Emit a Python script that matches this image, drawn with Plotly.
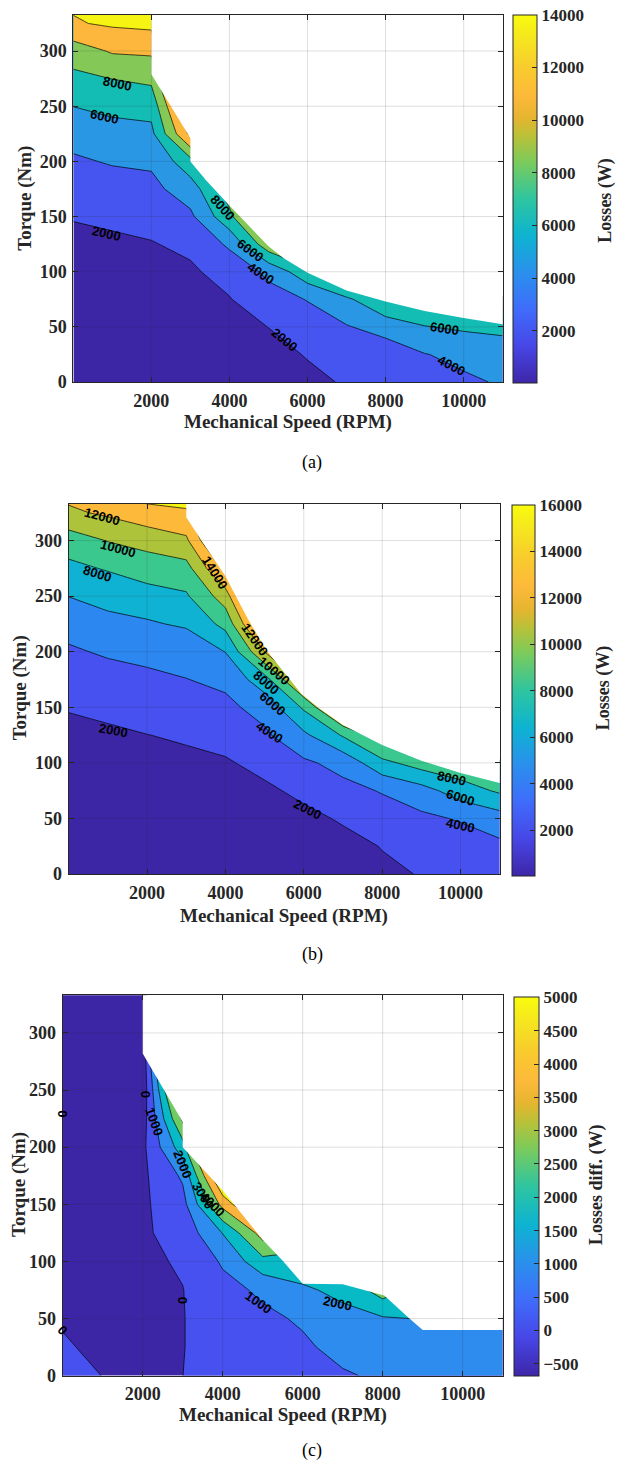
import plotly.graph_objects as go

# ---------------------------------------------------------------------------
# Operating grid shared by the three maps
speed_rpm = [0, 1000, 2000, 3000, 4000, 5000, 6000, 7000, 8000, 9000, 10000, 11000]
torque_nm = [0, 25, 50, 75, 100, 125, 150, 175, 200, 225, 250, 275, 300, 325, 350]

# Losses (W), one list per speed column, listed from low to high torque.
# Points far outside the torque envelope are left empty.
loss_a_cols = [
    [40, 98, 271, 561, 966, 1487, 2113, 2959, 3772, 4586, 6023, 7499, 8973, 11826, 12414],
    [200, 260, 440, 739, 1159, 1699, 2326, 3288, 4136, 5318, 6455, 8032, 10209, 12282, 14400],
    [380, 441, 625, 932, 1361, 1913, 2534, 3488, 4288, 5521, 6640, 8458, 10338, 12525, 15000],
    [580, 653, 871, 1234, 1743, 2355, 3609, 5000, 7300, 12500, 15000, 18000, 21000],
    [800, 923, 1293, 1910, 2660, 4335, 7500, 9062, 12000],
    [1080, 1318, 2023, 3234, 4431, 9334, 13000, 16000],
    [1500, 2125, 3132, 4075, 7394, 11000],
    [2200, 2616, 3864, 5564, 11014],
    [2650, 2900, 4750, 8100, 12000],
    [3100, 3920, 5920, 7920, 11000],
    [3650, 4525, 6281, 10500],
    [4200, 5271, 6343, 12000],
]
loss_b_cols = [
    [40, 98, 272, 563, 970, 1493, 2120, 2968, 3779, 4591, 6035, 7510, 8986, 11654, 12926],
    [150, 213, 402, 718, 1159, 1727, 2383, 3352, 4205, 5455, 6630, 8166, 10076, 12324, 14789],
    [300, 367, 569, 906, 1378, 1975, 2800, 3636, 4463, 5806, 6961, 9260, 10493, 13507, 15048],
    [450, 522, 738, 1099, 1604, 2227, 3131, 3960, 4793, 6230, 7758, 9270, 11640, 13640, 16000],
    [650, 725, 952, 1330, 1858, 2481, 3546, 4419, 6039, 8619, 11000, 14500, 18000, 21500],
    [850, 950, 1252, 1754, 2395, 3669, 4703, 7197, 12000, 16000, 20000, 24000],
    [1100, 1242, 1667, 2307, 3682, 5600, 8300, 13000, 17000],
    [1400, 1597, 2139, 3447, 4599, 8200, 13800, 18000],
    [1760, 2046, 3137, 4118, 7437, 11200, 15000],
    [2060, 2440, 3579, 5198, 8911, 12000],
    [2500, 2935, 4179, 7024, 9514, 13000],
    [2900, 3567, 5092, 8300, 11000],
]
loss_diff_cols = [
    [480, 80, -70, -150, -200, -250, -300, -340, -380, -420, -460, -500, -540, -570, -600],
    [-20, -160, -250, -300, -350, -380, -420, -460, -500, -540, -580, -620, -650, -670, -680],
    [-180, -200, -200, -200, -185, -125, -160, -190, -220, -450, -677, -690, -650, -620, -600],
    [-2, -30, -30, -20, 100, 350, 650, 1150, 2567, 4200, 6000, 8000, 10000],
    [250, 470, 470, 700, 1117, 2037, 4330, 6500, 9000],
    [450, 600, 800, 1165, 2700, 4450, 7000, 9500],
    [650, 850, 1118, 1878, 2488, 4000],
    [900, 1290, 1761, 2197, 3200],
    [1150, 1400, 1900, 3500, 5000],
    [1300, 1600, 2050, 2500],
    [1350, 1550, 1800],
    [1400, 1600, 1850],
]

# Maximum-torque envelopes (speed rpm, torque Nm)
env_a_speed = [2000, 3000, 3000, 3400, 4000, 5000, 5400, 6000, 7000, 8000, 9000, 10000, 11000]
env_a_torque = [279, 221, 200, 183, 160, 123, 112, 99, 83, 73, 64.5, 58, 52.5]
env_b_speed = [3000, 3350, 4000, 4580, 5050, 5940, 6400, 7000, 8000, 9000, 10000, 11000]
env_b_torque = [321, 302, 268, 229, 201, 162, 149, 134, 116, 102, 91, 82]
env_c_speed = [2000, 3000, 3000, 4000, 5000, 5500, 6000, 7000, 8040, 8640, 9000, 11000]
env_c_torque = [282, 222, 200, 162, 119, 100.6, 80.4, 80, 70.2, 51, 40, 40]

speed_ticks = [2000, 4000, 6000, 8000, 10000]
torque_ticks = [0, 50, 100, 150, 200, 250, 300]
cbar_a_ticks = [2000, 4000, 6000, 8000, 10000, 12000, 14000]
cbar_b_ticks = [2000, 4000, 6000, 8000, 10000, 12000, 14000, 16000]
cbar_c_ticks = [-500, 0, 500, 1000, 1500, 2000, 2500, 3000, 3500, 4000, 4500, 5000]

# Contour label text, speed, torque, angle
labels_a = [
    ("8000", 1120, 270.6, 12), ("6000", 790, 240.6, 12), ("2000", 840, 135, 13),
    ("8000", 3816, 158, 48), ("6000", 4540, 119.5, 36), ("4000", 4800, 98, 33),
    ("2000", 5400, 38.5, 39), ("6000", 9510, 48.5, 9), ("4000", 9680, 15, 27),
]
labels_b = [
    ("12000", 853, 321.4, 15), ("10000", 1260, 293, 15), ("8000", 725, 270.2, 17),
    ("2000", 1150, 129.5, 10), ("14000", 3730, 271.4, 58), ("12000", 4750, 211.3, 55),
    ("10000", 5230, 183, 40), ("8000", 5040, 172.6, 40), ("6000", 5200, 153.3, 40),
    ("4000", 5130, 127.4, 33), ("2000", 6100, 58, 27), ("8000", 9780, 85.7, 12),
    ("6000", 10000, 69, 17), ("4000", 10010, 43.8, 12),
]
labels_c = [
    ("0", 0, 229, 90), ("0", 0, 39.8, 49), ("0", 2070, 246.4, 90), ("1000", 2290, 222.6, 70),
    ("2000", 3000, 184.8, 68), ("3000", 3500, 157.3, 58), ("4000", 3750, 150, 45),
    ("0", 3000, 65.9, 90), ("1000", 4900, 64, 35), ("2000", 6875, 63, 12),
]

# ---------------------------------------------------------------------------
SERIF = "Liberation Serif"
SANS = "Liberation Sans"
AXC = "#262626"
X_MAX, Y_MAX = 11000, 333

PARULA = [
    [0.0, "#3E26A8"], [0.1, "#4746E6"], [0.2, "#3F6CFB"], [0.3, "#2A90EC"],
    [0.4, "#0DB3D1"], [0.5, "#2EC5A0"], [0.6, "#7BCB5C"], [0.67, "#B9C138"],
    [0.72, "#E6B52F"], [0.78, "#FDB93A"], [0.86, "#F8CC2D"], [0.93, "#F5E420"],
    [1.0, "#F9FB0E"],
]


def to_grid(cols):
    n = len(torque_nm)
    padded = [c + [None] * (n - len(c)) for c in cols]
    return [list(row) for row in zip(*padded)]


def band_scale(colors):
    n = len(colors) - 1
    return [[k / n, c] for k, c in enumerate(colors)]


panels = [
    dict(cols=loss_a_cols, levels=(2000, 12000, 2000),
         bands=["#3D26A6", "#4655EF", "#2A97E5", "#14BDB4", "#84C957", "#FCB73C", "#F5F412"],
         env=(env_a_speed, env_a_torque), crange=(40, 14000), cticks=cbar_a_ticks,
         px_x=(73.3, 502.7), px_y=(14.7, 384.7), cbar=(513, 15, 385, 24),
         labels=labels_a, cbtitle="Losses (W)", cbt_xy=(606, 202),
         xt_xy=(288, 425), yt_xy=(25, 200), cap="(a)", cap_y=466),
    dict(cols=loss_b_cols, levels=(2000, 14000, 2000),
         bands=["#3D26A6", "#4651F0", "#2C88F0", "#0FB2D2", "#3AC88E", "#ADC33A", "#FDBA3A", "#F7F512"],
         env=(env_b_speed, env_b_torque), crange=(40, 16000), cticks=cbar_b_ticks,
         px_x=(68.7, 499.7), px_y=(507.3, 880), cbar=(511.7, 508.3, 881.7, 23.3),
         labels=labels_b, cbtitle="Losses (W)", cbt_xy=(603, 693),
         xt_xy=(284, 922), yt_xy=(20, 693), cap="(b)", cap_y=961),
    dict(cols=loss_diff_cols, levels=(0, 5000, 1000),
         bands=["#3D26A6", "#4651F0", "#2E8CEF", "#07BAC6", "#6FCB62", "#FAB33C", "#F6F413"],
         env=(env_c_speed, env_c_torque), crange=(-690, 5000), cticks=cbar_c_ticks,
         px_x=(62.7, 502.7), px_y=(1002, 1385), cbar=(514, 1004, 1386, 25.3),
         labels=labels_c, cbtitle="Losses diff. (W)", cbt_xy=(597, 1193),
         xt_xy=(283, 1425), yt_xy=(19, 1193), cap="(c)", cap_y=1460),
]

W, H = 624, 1482
fig = go.Figure()
shapes, annotations = [], []
layout_axes = {}

for i, p in enumerate(panels):
    sfx = "" if i == 0 else str(i + 1)
    xa, ya = "x" + sfx, "y" + sfx
    x0, x1 = p["px_x"]
    y0, y1 = p["px_y"]

    start, end, size = p["levels"]
    fig.add_trace(go.Contour(
        x=speed_rpm, y=torque_nm, z=to_grid(p["cols"]), xaxis=xa, yaxis=ya,
        autocontour=False,
        contours=dict(start=start, end=end, size=size, coloring="fill", showlines=True),
        line=dict(color="black", width=0.7, smoothing=0),
        colorscale=band_scale(p["bands"]), showscale=False, hoverinfo="skip",
    ))

    # blank out the region above the torque envelope
    es, et = p["env"]
    fig.add_trace(go.Scatter(
        x=[es[0]] + es + [X_MAX * 1.05, X_MAX * 1.05],
        y=[Y_MAX * 1.05] + et + [et[-1], Y_MAX * 1.05],
        xaxis=xa, yaxis=ya, mode="lines", fill="toself", fillcolor="white",
        line=dict(width=0, color="white"), hoverinfo="skip", showlegend=False,
    ))

    # continuous colour bar
    cx, ct, cb, cth = p["cbar"]
    cmin, cmax = p["crange"]
    fig.add_trace(go.Scatter(
        x=[speed_rpm[0]], y=[torque_nm[0]], xaxis=xa, yaxis=ya, mode="markers",
        marker=dict(size=1, opacity=0, color=[cmin], cmin=cmin, cmax=cmax,
                    colorscale=PARULA, showscale=True,
                    colorbar=dict(
                        x=cx / W, xanchor="left", xpad=0,
                        y=1 - (ct + cb) / 2 / H, yanchor="middle", ypad=0,
                        len=(cb - ct) / H, lenmode="fraction",
                        thickness=cth, thicknessmode="pixels",
                        tickvals=p["cticks"], tickformat="d", ticks="inside", ticklen=5,
                        tickcolor=AXC, outlinewidth=1, outlinecolor=AXC,
                        tickfont=dict(family=SERIF, size=17, color=AXC, weight="bold"),
                    )),
        hoverinfo="skip", showlegend=False,
    ))

    axis_common = dict(
        ticks="inside", ticklen=5, tickcolor=AXC, tickwidth=1,
        showline=True, linecolor=AXC, linewidth=1, mirror="ticks",
        showgrid=False, zeroline=False, ticklabelstandoff=2, tickformat="d",
        tickfont=dict(family=SERIF, size=18, color=AXC, weight="bold"),
    )
    layout_axes["xaxis" + sfx] = dict(
        axis_common, domain=[x0 / W, x1 / W], range=[0, X_MAX],
        tickvals=speed_ticks, anchor=ya)
    layout_axes["yaxis" + sfx] = dict(
        axis_common, domain=[1 - y1 / H, 1 - y0 / H], range=[0, Y_MAX],
        tickvals=torque_ticks, anchor=xa)

    # light grid drawn above the filled contours
    for v in speed_ticks:
        shapes.append(dict(type="line", xref=xa, yref=ya + " domain", x0=v, x1=v, y0=0, y1=1,
                           line=dict(color="rgba(38,38,38,0.15)", width=1), layer="above"))
    for v in torque_ticks[1:]:
        shapes.append(dict(type="line", xref=xa + " domain", yref=ya, x0=0, x1=1, y0=v, y1=v,
                           line=dict(color="rgba(38,38,38,0.15)", width=1), layer="above"))

    for text, s, t, ang in p["labels"]:
        annotations.append(dict(
            x=s, y=t, xref=xa, yref=ya, text="<b>%s</b>" % text, showarrow=False,
            textangle=ang, font=dict(family=SANS, size=13, color="black"),
            xanchor="center", yanchor="middle"))

    tx, ty = p["xt_xy"]
    annotations.append(dict(x=tx / W, y=1 - ty / H, xref="paper", yref="paper",
                            text="<b>Mechanical Speed (RPM)</b>", showarrow=False,
                            font=dict(family=SERIF, size=19, color=AXC),
                            xanchor="center", yanchor="middle"))
    tx, ty = p["yt_xy"]
    annotations.append(dict(x=tx / W, y=1 - ty / H, xref="paper", yref="paper",
                            text="<b>Torque (Nm)</b>", showarrow=False, textangle=-90,
                            font=dict(family=SERIF, size=19, color=AXC),
                            xanchor="center", yanchor="middle"))
    tx, ty = p["cbt_xy"]
    annotations.append(dict(x=tx / W, y=1 - ty / H, xref="paper", yref="paper",
                            text="<b>%s</b>" % p["cbtitle"], showarrow=False, textangle=-90,
                            font=dict(family=SERIF, size=18, color=AXC),
                            xanchor="center", yanchor="middle"))
    annotations.append(dict(x=312 / W, y=1 - p["cap_y"] / H, xref="paper", yref="paper",
                            text=p["cap"], showarrow=False,
                            font=dict(family=SERIF, size=18, color="black"),
                            xanchor="center", yanchor="middle"))

fig.update_layout(
    width=W, height=H, autosize=False,
    margin=dict(l=0, r=0, t=0, b=0),
    paper_bgcolor="white", plot_bgcolor="white",
    showlegend=False, shapes=shapes, annotations=annotations,
    **layout_axes,
)

fig.write_html("out.html")
